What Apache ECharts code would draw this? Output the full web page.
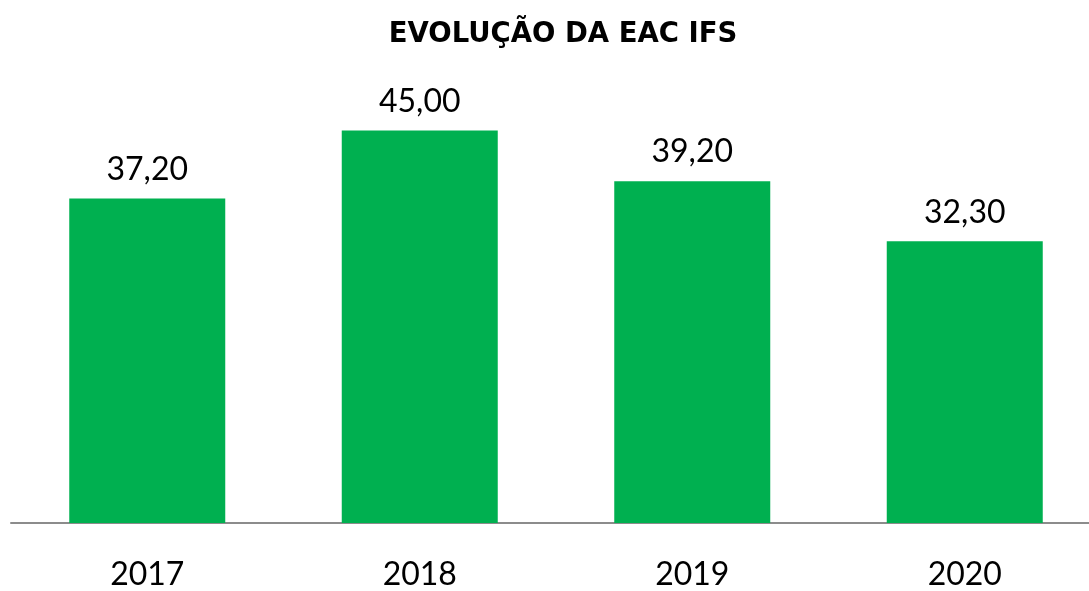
<!DOCTYPE html>
<html>
<head>
<meta charset="utf-8">
<script src="https://cdn.jsdelivr.net/npm/echarts@6/dist/echarts.min.js"></script>
<style>
  html, body { margin: 0; padding: 0; background: #fff; overflow: hidden; }
  #chart { width: 1101px; height: 591px; }
</style>
</head>
<body>
<div id="chart"></div>
<script>
// dados do gráfico
const anos = ['2017', '2018', '2019', '2020'];
const valores = [37.2, 45.0, 39.2, 32.3];
const titulo = 'EVOLUÇÃO DA EAC IFS';

const chart = echarts.init(document.getElementById('chart'));
const option = {
    animation: false,
    title: {
        text: titulo,
        left: 558,
        textAlign: 'center',
        top: 16,
        textStyle: { fontFamily: 'DejaVu Sans', fontWeight: 'bold', fontSize: 27.5, color: '#000' }
    },
    grid: { left: 11, right: 0, top: 87, bottom: 63 },
    xAxis: {
        type: 'category',
        data: anos,
        axisTick: { show: false },
        axisLine: { lineStyle: { color: '#8c8c8c', width: 2 } },
        axisLabel: { fontFamily: 'Lato', fontSize: 32, color: '#000', margin: 36 }
    },
    yAxis: {
        type: 'value',
        min: 0,
        max: 50,
        show: false
    },
    series: [{
        type: 'bar',
        data: valores,
        barWidth: 156,
        itemStyle: { color: '#00B050' },
        label: {
            show: true,
            position: 'top',
            distance: 13,
            fontFamily: 'Lato',
            fontSize: 32,
            color: '#000',
            formatter: p => p.value.toFixed(2).replace('.', ',')
        }
    }]
};
chart.setOption(option);
</script>
</body>
</html>
